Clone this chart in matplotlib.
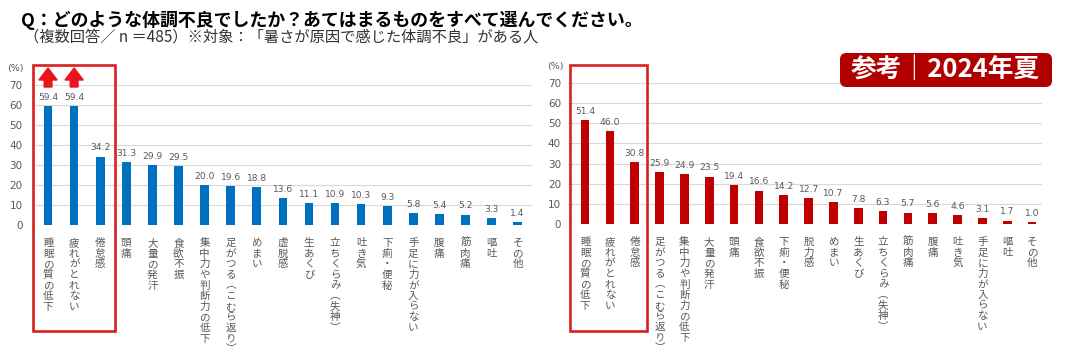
import matplotlib
matplotlib.use("Agg")
import matplotlib.pyplot as plt
from matplotlib.patches import Rectangle, FancyArrow, FancyBboxPatch

plt.rcParams['font.family'] = ['Noto Sans CJK JP', 'DejaVu Sans']

# 2025 (left)
cats_2025 = ["睡眠の質の低下", "疲れがとれない", "倦怠感", "頭痛", "大量の発汗", "食欲不振",
             "集中力や判断力の低下", "足がつる（こむら返り）", "めまい", "虚脱感", "生あくび",
             "立ちくらみ（失神）", "吐き気", "下痢・便秘", "手足に力が入らない", "腹痛",
             "筋肉痛", "嘔吐", "その他"]
vals_2025 = [59.4, 59.4, 34.2, 31.3, 29.9, 29.5, 20.0, 19.6, 18.8, 13.6, 11.1,
             10.9, 10.3, 9.3, 5.8, 5.4, 5.2, 3.3, 1.4]

# 2024 (right, reference)
cats_2024 = ["睡眠の質の低下", "疲れがとれない", "倦怠感", "足がつる(こむら返り)",
             "集中力や判断力の低下", "大量の発汗", "頭痛", "食欲不振", "下痢・便秘", "脱力感",
             "めまい", "生あくび", "立ちくらみ（失神）", "筋肉痛", "腹痛", "吐き気",
             "手足に力が入らない", "嘔吐", "その他"]
vals_2024 = [51.4, 46.0, 30.8, 25.9, 24.9, 23.5, 19.4, 16.6, 14.2, 12.7, 10.7,
             7.8, 6.3, 5.7, 5.6, 4.6, 3.1, 1.7, 1.0]

yticks = [0, 10, 20, 30, 40, 50, 60, 70]

TITLE = "Q：どのような体調不良でしたか？あてはまるものをすべて選んでください。"
SUBTITLE = "（複数回答／ n ＝485）※対象：「暑さが原因で感じた体調不良」がある人"
BADGE = "参考｜2024年夏"

GRAY = "#595959"
W, H = 1066, 360


def vert_chars(s):
    # characters for vertical japanese labels (brackets turned)
    swap = {'（': '︵', '）': '︶', '(': '︵', ')': '︶'}
    return [swap.get(c, c) for c in s if c != " "]


def draw_bars(ax, cats, vals, color, xlim, width, pad):
    x = list(range(len(cats)))
    ax.bar(x, vals, width=width, color=color, zorder=3)
    ax.set_xlim(*xlim)
    ax.set_ylim(0, 70)
    ax.set_yticks(yticks)
    ax.set_xticks([])
    ax.grid(axis='y', color='#d9d9d9', linewidth=0.8, zorder=0)
    for s in ax.spines.values():
        s.set_visible(False)
    ax.tick_params(axis='y', length=0, labelsize=7.5, labelcolor=GRAY, pad=pad)
    for lab in ax.get_yticklabels():
        lab.set_family('DejaVu Sans')
    for i, v in enumerate(vals):
        ax.annotate(f"{v:.1f}", (i, v), xytext=(0, 3), textcoords='offset points',
                    ha='center', va='bottom', fontsize=6.6, color=GRAY,
                    family='DejaVu Sans')
        # one character per line, fixed step
        for k, ch in enumerate(vert_chars(cats[i])):
            ax.annotate(ch, (i, 0), xytext=(0, -13 - k * 7.65), textcoords='offset points',
                        ha='center', va='center', fontsize=7.6, color=GRAY)


fig = plt.figure(figsize=(W / 100, H / 100), dpi=100)

ax1 = fig.add_axes([35 / W, 1 - 225 / H, 497 / W, 140 / H])
draw_bars(ax1, cats_2025, vals_2025, '#0070C0', (-0.5, 18.55), 0.33, 9)

ax2 = fig.add_axes([568 / W, 1 - 224 / H, 474 / W, 141 / H])
draw_bars(ax2, cats_2024, vals_2024, '#C00000', (-0.69, 18.4), 0.35, 5)

fig.text(15 / W, 1 - 69 / H, "(%)", ha='center', va='center', fontsize=6.8,
         color=GRAY, family='DejaVu Sans')
fig.text(555 / W, 1 - 67 / H, "(%)", ha='center', va='center', fontsize=6.8,
         color=GRAY, family='DejaVu Sans')

# up arrows over the top two bars
for i in (0, 1):
    ax1.add_patch(FancyArrow(i, 69, 0, 9.5, width=0.3, head_width=0.7, head_length=6,
                             length_includes_head=True, color='#E8141E', clip_on=False,
                             zorder=5))

# red highlight frames
for x0, x1 in ((33, 115), (570, 647)):
    fig.patches.append(Rectangle((x0 / W, 1 - 331 / H), (x1 - x0) / W, 266 / H,
                                 transform=fig.transFigure, fill=False,
                                 edgecolor='#D92020', linewidth=1.9, zorder=10))

# badge
fig.patches.append(FancyBboxPatch((840 / W, 1 - 87 / H), 212 / W, 34 / H,
                                  boxstyle="round,pad=0,rounding_size=0.006",
                                  mutation_aspect=W / H, transform=fig.transFigure,
                                  facecolor='#B00000', edgecolor='none'))
fig.text(945 / W, 1 - 70 / H, BADGE, ha='center', va='center', fontsize=18.5,
         fontweight='bold', color='white')

fig.text(21 / W, 1 - 20 / H, TITLE, ha='left', va='center', fontsize=12.9,
         fontweight='bold', color='black')
fig.text(24 / W, 1 - 37 / H, SUBTITLE, ha='left', va='center', fontsize=11,
         color='#333333')

fig.savefig("out.png", dpi=100)
